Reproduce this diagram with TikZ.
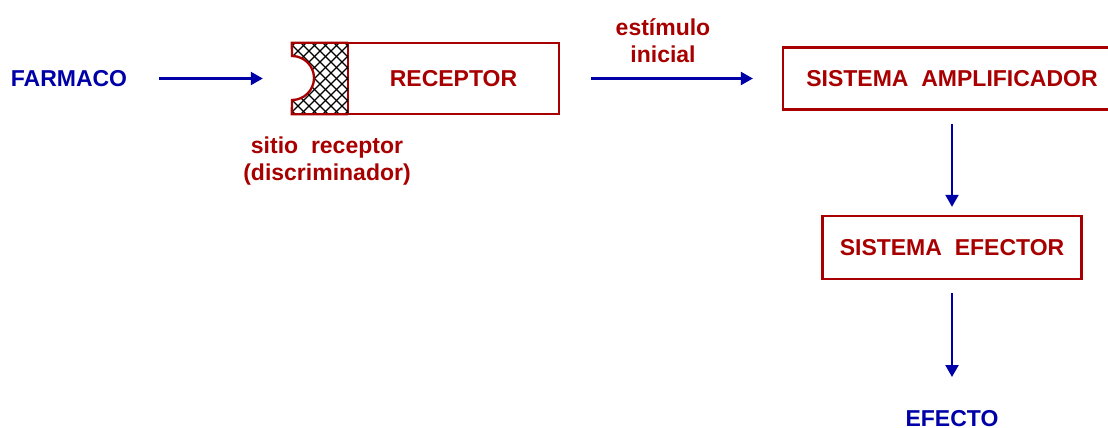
\documentclass[tikz,border=0pt]{standalone}
\usepackage{fontspec}
\setmainfont{Liberation Sans}
\usetikzlibrary{arrows.meta}
\definecolor{recred}{RGB}{168,0,0}
\definecolor{flowblue}{RGB}{0,0,168}
\tikzset{
  caps/.style={font=\fontsize{23}{25}\selectfont\bfseries, inner sep=0pt, text height=16.5pt, text depth=0pt},
  twoline/.style={font=\fontsize{23}{27}\selectfont\bfseries, inner sep=0pt, text=recred, align=center, anchor=base},
  redbox/.style={caps, draw=recred, line width=2.3pt, text=recred},
  flow/.style={draw=flowblue, line width=2.2pt, -{Triangle[length=12pt,width=13pt]}},
}
\begin{document}
\begin{tikzpicture}[x=1pt, y=-1pt]
\useasboundingbox (0,0) rectangle (1108,428);
% nodes
\node [caps, text=flowblue] (farmaco) at (69,78.5) {FARMACO};
\node [inner sep=0pt, minimum width=56pt, minimum height=71pt] (sitio) at (320,78.5) {};
\node [redbox, minimum width=211pt, minimum height=71pt] (receptor) at (453.5,78.5) {RECEPTOR};
\node [redbox, minimum width=338pt, minimum height=62pt] (amp) at (952,78.5) {SISTEMA\ \ AMPLIFICADOR};
\node [redbox, minimum width=259pt, minimum height=63pt] (efector) at (952,247.5) {SISTEMA\ \ EFECTOR};
\node [caps, text=flowblue, anchor=north] (efecto) at (952,410) {EFECTO};
\node [twoline] (sitiolbl) at (327,180) {sitio\ \ receptor\\(discriminador)};
\node [twoline] (estimulo) at (663,63) {estímulo\\inicial};
% hatched binding site
\begin{scope}
  \clip (sitio.north west) -- (sitio.north east) -- (sitio.south east) -- (sitio.south west)
    -- (292,100) arc [start angle=-90, end angle=90, radius=22pt] -- cycle;
  \foreach \i in {-90,-79,...,70} {
    \draw [line width=1.1pt] (292+\i,43) -- ++(71,71);
    \draw [line width=1.1pt] (292+\i,114) -- ++(71,-71);
  }
\end{scope}
\draw [recred, line width=2.3pt, line join=miter] (sitio.north east) -- (sitio.north west) -- (292,56)
  arc [start angle=90, end angle=-90, radius=22pt] -- (sitio.south west) -- (sitio.south east);
% connectors
\draw [flow, shorten <=32pt, shorten >=29pt] (farmaco) -- (sitio);
\draw [flow, shorten <=31pt, shorten >=29pt] (receptor) -- (amp);
\draw [flow, shorten <=13pt, shorten >=8pt] (amp) -- (efector);
\draw [flow, shorten <=13pt, shorten >=33pt] (efector) -- (efecto);
\end{tikzpicture}
\end{document}
